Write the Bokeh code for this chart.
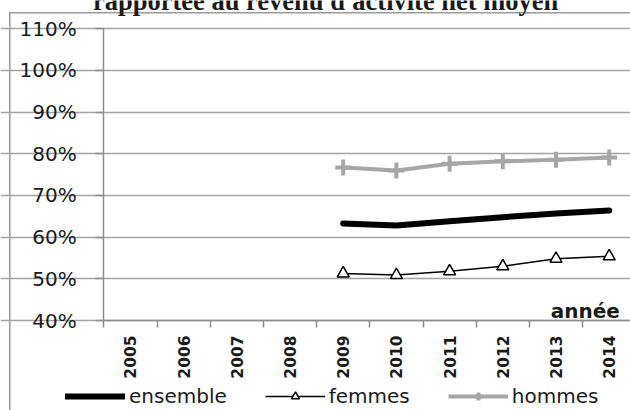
import math
from bokeh.plotting import figure
from bokeh.models import (Range1d, FixedTicker, PrintfTickFormatter, Legend, LegendItem, Label)
from bokeh.embed import file_html
from bokeh.resources import INLINE

# ---- data ----
years = [2005, 2006, 2007, 2008, 2009, 2010, 2011, 2012, 2013, 2014]
data_years = [2009, 2010, 2011, 2012, 2013, 2014]
ensemble = [63.3, 62.8, 63.8, 64.8, 65.7, 66.4]
femmes = [51.3, 50.9, 51.8, 53.0, 54.8, 55.4]
hommes = [76.7, 76.0, 77.6, 78.2, 78.6, 79.1]
y_ticks = [40, 50, 60, 70, 80, 90, 100, 110]
title_text = "rapportée au revenu d'activité net moyen"
axis_text = "année"

GRID = "#a3a3a3"
AXIS = "#8c8c8c"
GREY = "#a6a6a6"
FONT = "DejaVu Sans"
TXT = "#1a1a1a"
BOX = "#9a9a9a"

# pixel geometry of the plotting area (the frame covers the whole canvas)
W, H = 630, 410
X0_PX, CAT_PX = 103.3, 53.2          # left axis position, width of one year slot
Y40_PX, PX_PER_UNIT = 320.0, 4.167   # 40% line position, pixels per percentage point
x_lo = years[0] - 0.5
y_lo = y_ticks[0]

# outer chart box (left and top edges) painted behind the transparent canvas
box_styles = {
    "background-color": "white",
    "background-image": f"linear-gradient({BOX},{BOX}), linear-gradient({BOX},{BOX})",
    "background-size": "1.5px 398px, 621px 1.5px",
    "background-position": "9px 12px, 9px 12px",
    "background-repeat": "no-repeat",
}

p = figure(width=W, height=H, output_backend="svg", toolbar_location=None,
           x_range=Range1d(x_lo - X0_PX / CAT_PX, x_lo + (W - X0_PX) / CAT_PX),
           y_range=Range1d(y_lo - (H - Y40_PX) / PX_PER_UNIT, y_lo + Y40_PX / PX_PER_UNIT),
           min_border_left=0, min_border_right=0, min_border_top=0, min_border_bottom=0,
           styles=box_styles)
p.border_fill_alpha = 0
p.background_fill_alpha = 0
p.outline_line_color = None
p.xgrid.grid_line_color = None
p.ygrid.grid_line_color = GRID
p.ygrid.grid_line_width = 1.5
p.ygrid.ticker = FixedTicker(ticks=y_ticks)
p.ygrid.bounds = (x_lo, x_lo + 20)

# y axis (drawn inside the canvas at the left edge of the year slots)
p.yaxis.fixed_location = x_lo
p.yaxis.ticker = FixedTicker(ticks=y_ticks)
p.yaxis.bounds = (y_ticks[0], y_ticks[-1])
p.yaxis.formatter = PrintfTickFormatter(format="%d%%")
p.yaxis.axis_line_color = AXIS
p.yaxis.axis_line_width = 1.5
p.yaxis.major_tick_line_color = AXIS
p.yaxis.major_tick_line_width = 1.5
p.yaxis.major_tick_out = 8
p.yaxis.major_tick_in = 0
p.yaxis.minor_tick_line_color = None
p.yaxis.major_label_standoff = 19
p.yaxis.major_label_text_font = FONT
p.yaxis.major_label_text_font_size = "20px"
p.yaxis.major_label_text_color = TXT

# x axis (at the 40% line)
p.xaxis.fixed_location = y_lo
p.xaxis.bounds = (x_lo, x_lo + 20)
p.xaxis.ticker = FixedTicker(ticks=years, minor_ticks=[y - 0.5 for y in years] + [years[-1] + 0.5])
p.xaxis.formatter = PrintfTickFormatter(format="%d")
p.xaxis.axis_line_color = AXIS
p.xaxis.axis_line_width = 1.5
p.xaxis.major_tick_line_color = None
p.xaxis.major_tick_out = 0
p.xaxis.major_tick_in = 0
p.xaxis.minor_tick_line_color = AXIS
p.xaxis.minor_tick_line_width = 1.5
p.xaxis.minor_tick_out = 7
p.xaxis.minor_tick_in = 0
p.xaxis.major_label_orientation = math.pi / 2
p.xaxis.major_label_standoff = 8
p.xaxis.major_label_text_font = FONT
p.xaxis.major_label_text_font_style = "bold"
p.xaxis.major_label_text_font_size = "15.5px"
p.xaxis.major_label_text_color = TXT

# series
r_ens = p.line(data_years, ensemble, line_color="black", line_width=6, line_cap="round", line_join="round")
r_hom_l = p.line(data_years, hommes, line_color=GREY, line_width=4)
r_hom_m = p.scatter(data_years, hommes, marker="cross", size=16, line_color=GREY, line_width=4)
r_fem_l = p.line(data_years, femmes, line_color="black", line_width=1.5)
r_fem_m = p.scatter(data_years, femmes, marker="triangle", size=12, line_color="black",
                    fill_color="white", line_width=1.5)

legend = Legend(items=[LegendItem(label="ensemble", renderers=[r_ens]),
                       LegendItem(label="femmes", renderers=[r_fem_l, r_fem_m]),
                       LegendItem(label="hommes", renderers=[r_hom_l, r_hom_m])],
                orientation="horizontal", location=(65, 2),
                glyph_width=60, glyph_height=20, label_standoff=4, spacing=38,
                padding=0, margin=0, border_line_color=None, background_fill_alpha=0,
                label_text_font=FONT, label_text_font_size="20px", label_text_color=TXT,
                label_height=20)
p.add_layout(legend, "center")

p.add_layout(Label(x=2014.2, y=42.3, text=axis_text, text_align="right", text_baseline="alphabetic",
                   text_font=FONT, text_font_style="bold", text_font_size="20px",
                   text_color=TXT))

p.add_layout(Label(x=2008.67, y=116.6, text=title_text, text_align="center", text_baseline="alphabetic",
                   text_font="Liberation Serif", text_font_style="bold", text_font_size="26.5px",
                   text_color=TXT))

open("out.html", "w").write(file_html(p, INLINE))
